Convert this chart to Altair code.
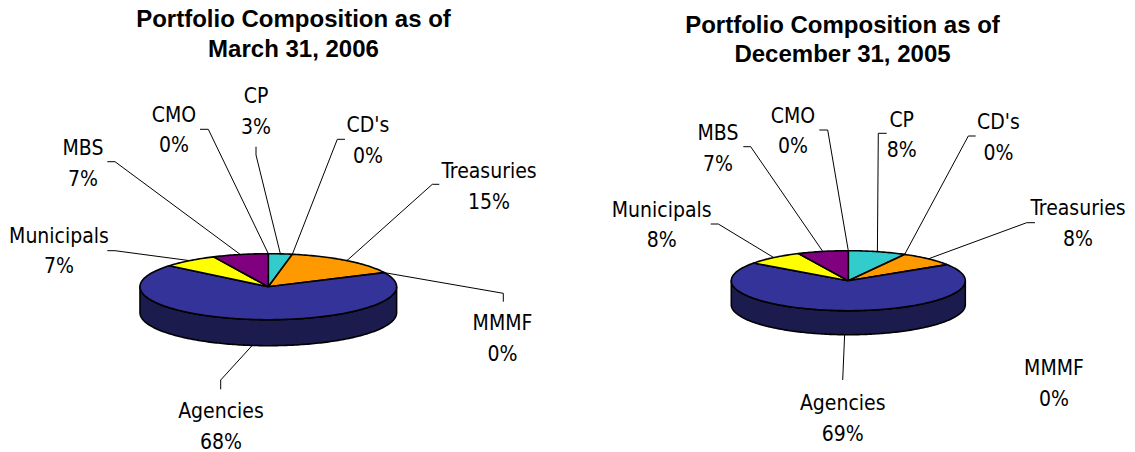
import math
import altair as alt
import pandas as pd

# ---------------- data ----------------
categories = ["CP", "CD's", "Treasuries", "MMMF", "Agencies", "Municipals", "MBS", "CMO"]
values_mar_2006 = [3, 0, 15, 0, 68, 7, 7, 0]
values_dec_2005 = [8, 0, 8, 0, 69, 8, 7, 0]
title_lines_mar_2006 = ["Portfolio Composition as of", "March 31, 2006"]
title_lines_dec_2005 = ["Portfolio Composition as of", "December 31, 2005"]

# ---------------- styles / layout ----------------
top_colors = {"CP": "#33CCCC", "CD's": "#99CCFF", "Treasuries": "#FF9900", "MMMF": "#CCCCCC",
              "Agencies": "#333399", "Municipals": "#FFFF00", "MBS": "#800080", "CMO": "#993366"}
side_colors = {"CP": "#1A6666", "CD's": "#4C6680", "Treasuries": "#804C00", "MMMF": "#666666",
               "Agencies": "#1B1B4E", "Municipals": "#808000", "MBS": "#400040", "CMO": "#4C1A33"}

layout = [
    dict(values=values_mar_2006, title=title_lines_mar_2006, title_x=293.5, title_y=27.3,
         cx=268.3, cy=286.7, rx=128.3, ry=33.0, depth=26.0,
         labels={"CP": (256, 103.3), "CD's": (368, 132.3), "Treasuries": (489, 178.3),
                 "MMMF": (502.5, 330), "Agencies": (221, 418.3), "Municipals": (59, 242.7),
                 "MBS": (83, 155), "CMO": (174, 121.7)},
         leaders={"CP": [(256, 146.7), (256, 155)], "CD's": [(345, 139.3), (337.3, 139.3)],
                  "Treasuries": [(439.3, 184.3), (432.3, 184.3)], "MMMF": [(503.3, 301.7), (503.3, 293.3)],
                  "Agencies": [(220.7, 389.3), (220.7, 380)], "Municipals": [(107.3, 250.7), (115, 250.7)],
                  "MBS": [(107.3, 161.7), (115, 161.7)], "CMO": [(200, 129.3), (208.3, 129.3)]}),
    dict(values=values_dec_2005, title=title_lines_dec_2005, title_x=842.5, title_y=33.0,
         cx=848.3, cy=280.7, rx=117.0, ry=30.0, depth=24.0,
         labels={"CP": (901.7, 126.7), "CD's": (998.5, 129.3), "Treasuries": (1078.0, 215),
                 "MMMF": (1054, 375), "Agencies": (842.7, 410), "Municipals": (661.7, 216.7),
                 "MBS": (718, 140), "CMO": (793, 122.7)},
         leaders={"CP": [(886.7, 133.3), (878.3, 133.3)], "CD's": [(975.7, 136), (968.3, 136)],
                  "Treasuries": [(1035, 222.7), (1026.7, 222.7)],
                  "Agencies": [(842.7, 380)], "Municipals": [(710.7, 224), (718.3, 224)],
                  "MBS": [(743.3, 146.7), (750.7, 146.7)], "CMO": [(819.3, 130), (827.7, 130)]}),
]

LINE_GAP = 30.5
LABEL_FONT = "'Liberation Sans Narrow', 'Arial Narrow', 'Noto Sans Condensed', 'DejaVu Sans Condensed', 'Roboto Condensed', 'Liberation Sans', sans-serif"


def ellipse_pt(p, theta, down=0.0):
    t = math.radians(theta)
    return p["cx"] + p["rx"] * math.sin(t), p["cy"] - p["ry"] * math.cos(t) + down


def arc_points(p, a, b, down=0.0):
    n = max(2, int(abs(b - a) / 1.0) + 1)
    return [ellipse_pt(p, a + (b - a) * i / (n - 1), down) for i in range(n)]


side_rows, top_rows, leader_rows, text_rows = [], [], [], []
for pi, p in enumerate(layout):
    total = sum(p["values"])
    start = 0.0
    for cat, v in zip(categories, p["values"]):
        a = start
        b = start + 360.0 * v / total
        start = b
        mid = (a + b) / 2
        if v > 0:
            pts = [(p["cx"], p["cy"])] + arc_points(p, a, b) + [(p["cx"], p["cy"])]
            for k, (x, y) in enumerate(pts):
                top_rows.append(dict(shape=f"{pi}-{cat}-top", k=k, x=x, y=y, fill=top_colors[cat]))
            sa, sb = max(a, 90.0), min(b, 270.0)
            if sa < sb:
                upper = arc_points(p, sa, sb)
                lower = arc_points(p, sb, sa, p["depth"])
                pts = upper + lower + [upper[0]]
                for k, (x, y) in enumerate(pts):
                    side_rows.append(dict(shape=f"{pi}-{cat}-side", k=k, x=x, y=y, fill=side_colors[cat]))
        if cat in p["leaders"]:
            if 90 < mid < 270:
                end = ellipse_pt(p, mid, p["depth"])
            else:
                end = ellipse_pt(p, mid)
            pts = p["leaders"][cat] + [end]
            for k, (x, y) in enumerate(pts):
                leader_rows.append(dict(shape=f"{pi}-{cat}-lead", k=k, x=x, y=y))
        lx, ly = p["labels"][cat]
        text_rows.append(dict(text=cat, x=lx, y=ly, weight="normal"))
        text_rows.append(dict(text=f"{v}%", x=lx, y=ly + LINE_GAP, weight="normal"))
    for j, line in enumerate(p["title"]):
        text_rows.append(dict(text=line, x=p["title_x"], y=p["title_y"] + j * 29.4, weight="bold"))

side_df = pd.DataFrame(side_rows)
top_df = pd.DataFrame(top_rows)
lead_df = pd.DataFrame(leader_rows)
text_df = pd.DataFrame(text_rows)

W, H = 1119, 443
xs = alt.Scale(domain=[8, 8 + W], nice=False, zero=False)
ys = alt.Scale(domain=[8, 8 + H], nice=False, zero=False, reverse=True)
X = lambda: alt.X("x:Q", scale=xs, axis=None)
Y = lambda: alt.Y("y:Q", scale=ys, axis=None)

side = alt.Chart(side_df).mark_line(strokeWidth=1.6, strokeJoin="round", interpolate="linear").encode(
    x=X(), y=Y(), order="k:Q", detail="shape:N",
    fill=alt.Fill("fill:N", scale=None), stroke=alt.value("black"))

top = alt.Chart(top_df).mark_line(strokeWidth=1.6, strokeJoin="round", interpolate="linear").encode(
    x=X(), y=Y(), order="k:Q", detail="shape:N",
    fill=alt.Fill("fill:N", scale=None), stroke=alt.value("black"))

leaders = alt.Chart(lead_df).mark_line(strokeWidth=1, color="black").encode(
    x=X(), y=Y(), order="k:Q", detail="shape:N")

labels = alt.Chart(text_df).transform_filter("datum.weight == 'normal'").mark_text(
    font=LABEL_FONT, fontSize=21, align="center", baseline="alphabetic", color="black"
).encode(x=X(), y=Y(), text="text:N")

titles = alt.Chart(text_df).transform_filter("datum.weight == 'bold'").mark_text(
    font="'Liberation Sans', Arial, sans-serif", fontSize=24, fontWeight="bold", align="center",
    baseline="alphabetic", color="black"
).encode(x=X(), y=Y(), text="text:N")

chart = alt.layer(side, top, leaders, labels, titles).properties(
    width=W, height=H, padding=0, autosize=alt.AutoSizeParams(type="none")
).configure_view(stroke=None)

chart.save("out.html", embed_options={"renderer": "svg", "actions": False})
